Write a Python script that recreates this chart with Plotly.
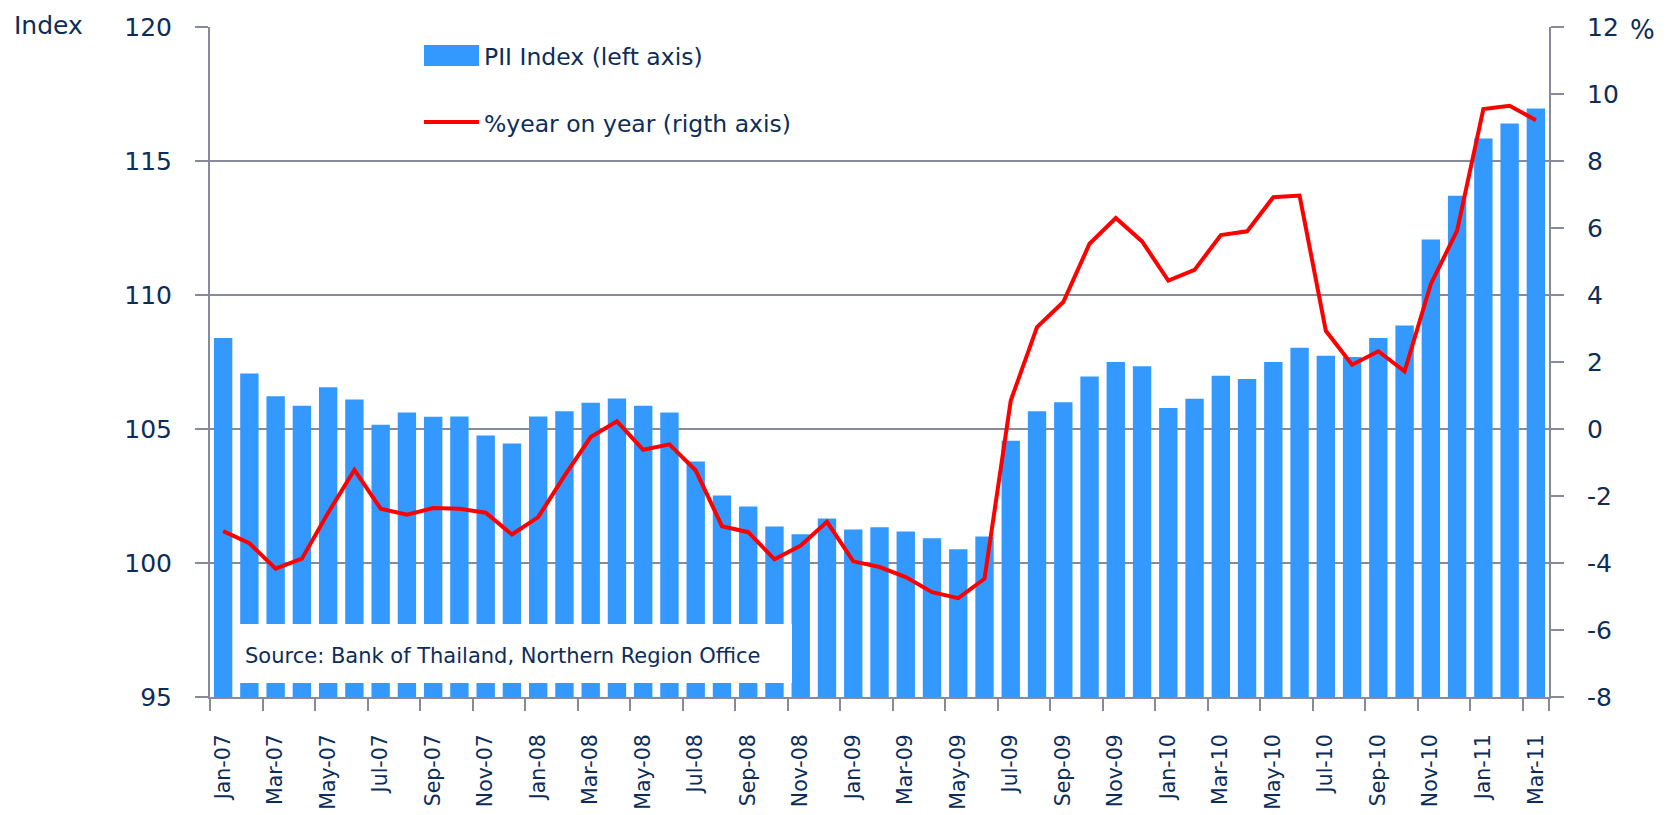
import plotly.graph_objects as go

months = ["Jan-07","Feb-07","Mar-07","Apr-07","May-07","Jun-07","Jul-07","Aug-07","Sep-07","Oct-07","Nov-07","Dec-07",
          "Jan-08","Feb-08","Mar-08","Apr-08","May-08","Jun-08","Jul-08","Aug-08","Sep-08","Oct-08","Nov-08","Dec-08",
          "Jan-09","Feb-09","Mar-09","Apr-09","May-09","Jun-09","Jul-09","Aug-09","Sep-09","Oct-09","Nov-09","Dec-09",
          "Jan-10","Feb-10","Mar-10","Apr-10","May-10","Jun-10","Jul-10","Aug-10","Sep-10","Oct-10","Nov-10","Dec-10",
          "Jan-11","Feb-11","Mar-11"]

pii_index = [108.40, 107.07, 106.22, 105.87, 106.56, 106.10, 105.16, 105.62, 105.46, 105.47, 104.76, 104.46,
             105.47, 105.66, 105.98, 106.14, 105.87, 105.62, 103.79, 102.52, 102.11, 101.36, 101.07, 101.66,
             101.25, 101.33, 101.18, 100.92, 100.51, 100.99, 104.56, 105.66, 106.00, 106.96, 107.50, 107.34,
             105.78, 106.13, 106.99, 106.87, 107.50, 108.03, 107.73, 107.69, 108.40, 108.86, 112.07, 113.70,
             115.84, 116.40, 116.96]

yoy_pct = [-3.05, -3.41, -4.17, -3.87, -2.50, -1.22, -2.38, -2.56, -2.36, -2.38, -2.50, -3.15,
           -2.63, -1.40, -0.24, 0.23, -0.62, -0.46, -1.24, -2.90, -3.08, -3.89, -3.48, -2.77,
           -3.95, -4.12, -4.42, -4.87, -5.05, -4.47, 0.85, 3.04, 3.79, 5.53, 6.30, 5.60,
           4.43, 4.75, 5.79, 5.90, 6.92, 6.97, 2.93, 1.92, 2.32, 1.72, 4.33, 5.92,
           9.55, 9.65, 9.22]

left_ticks = [95, 100, 105, 110, 115, 120]
right_ticks = [-8, -6, -4, -2, 0, 2, 4, 6, 8, 10, 12]
right_ticktext = ["-8", "-6", "-4", "-2", "0", "2", "4", "6", "8", "10", "12"]
x_ticklabels = months[::2]

legend_bar = "PII Index (left axis)"
legend_line = "%year on year (rigth axis)"
source_text = "Source: Bank of Thailand, Northern Region Office"

# page body has an 8px margin: work in screen pixels and convert
OFF = 8
W, H = 1667, 815
PL, PR, PT, PB = 210, 1549, 27, 697   # plot area in screen pixels
L, T = PL - OFF, PT - OFF
R, B = W - (PR - OFF), H - (PB - OFF)
PW, PH = PR - PL, PB - PT

def px(x):
    return (x - PL) / PW

def py(y):
    return (PB - y) / PH

NAVY = "#0C2D5A"
GRID = "#878A9A"
BLUE = "#3399FF"
RED = "#FF0000"
FONT = "DejaVu Sans"

fig = go.Figure()
fig.add_trace(go.Bar(x=months, y=pii_index, marker=dict(color=BLUE, line=dict(width=0)),
                     name=legend_bar, yaxis="y", showlegend=False))
fig.add_trace(go.Scatter(x=months, y=yoy_pct, mode="lines", line=dict(color=RED, width=4),
                         name=legend_line, yaxis="y2", showlegend=False))

fig.update_layout(
    width=W, height=H,
    margin=dict(l=L, r=R, t=T, b=B, pad=0, autoexpand=False),
    paper_bgcolor="white", plot_bgcolor="white",
    font=dict(family=FONT, color=NAVY, size=24),
    bargap=0.3,
    xaxis=dict(type="category", range=[-0.5, len(months) - 0.5], automargin=False,
               tickmode="array", tickvals=x_ticklabels, ticktext=x_ticklabels,
               tickson="boundaries", ticks="outside", ticklen=12, tickwidth=2, tickcolor=GRID,
               tickangle=-90, tickfont=dict(size=20.5, color=NAVY, family=FONT),
               ticklabelstandoff=27,
               showline=True, linecolor=GRID, linewidth=2, showgrid=False),
    yaxis=dict(range=[95, 120], tickvals=left_ticks, ticks="outside", ticklen=13, tickwidth=2,
               tickcolor=GRID, showline=True, linecolor=GRID, linewidth=2, automargin=False,
               showgrid=True, gridcolor=GRID, gridwidth=2, zeroline=False,
               tickfont=dict(size=25, color=NAVY, family=FONT), ticklabelstandoff=18),
    yaxis2=dict(range=[-8, 12], overlaying="y", side="right", tickmode="array", automargin=False,
                tickvals=right_ticks, ticktext=right_ticktext, ticks="outside", ticklen=13,
                tickwidth=2, tickcolor=GRID, showline=True, linecolor=GRID, linewidth=2,
                showgrid=False, zeroline=False,
                tickfont=dict(size=25, color=NAVY, family=FONT), ticklabelstandoff=18),
    showlegend=False,
)

shapes = [
    dict(type="rect", xref="paper", yref="paper", x0=px(424), x1=px(479), y0=py(66), y1=py(45),
         fillcolor=BLUE, line=dict(width=0), layer="above"),
    dict(type="line", xref="paper", yref="paper", x0=px(424), x1=px(479), y0=py(122), y1=py(122),
         line=dict(color=RED, width=4), layer="above"),
    dict(type="rect", xref="paper", yref="paper", x0=px(239), x1=px(792), y0=py(683), y1=py(624),
         fillcolor="white", line=dict(width=0), layer="above"),
]
fig.update_layout(shapes=shapes)

annotations = [
    dict(text=legend_bar, x=px(482), y=py(57), xref="paper", yref="paper", xanchor="left",
         yanchor="middle", showarrow=False, font=dict(size=23.5, color=NAVY, family=FONT)),
    dict(text=legend_line, x=px(482), y=py(124), xref="paper", yref="paper", xanchor="left",
         yanchor="middle", showarrow=False, font=dict(size=23.5, color=NAVY, family=FONT)),
    dict(text=source_text, x=px(243), y=py(656), xref="paper", yref="paper", xanchor="left",
         yanchor="middle", showarrow=False, font=dict(size=21, color=NAVY, family=FONT)),
    dict(text="Index", x=px(12), y=py(26), xref="paper", yref="paper", xanchor="left",
         yanchor="middle", showarrow=False, font=dict(size=25, color=NAVY, family=FONT)),
    dict(text="%", x=px(1628), y=py(30), xref="paper", yref="paper", xanchor="left",
         yanchor="middle", showarrow=False, font=dict(size=26, color=NAVY, family=FONT)),
]
fig.update_layout(annotations=annotations)

fig.write_html("out.html")
